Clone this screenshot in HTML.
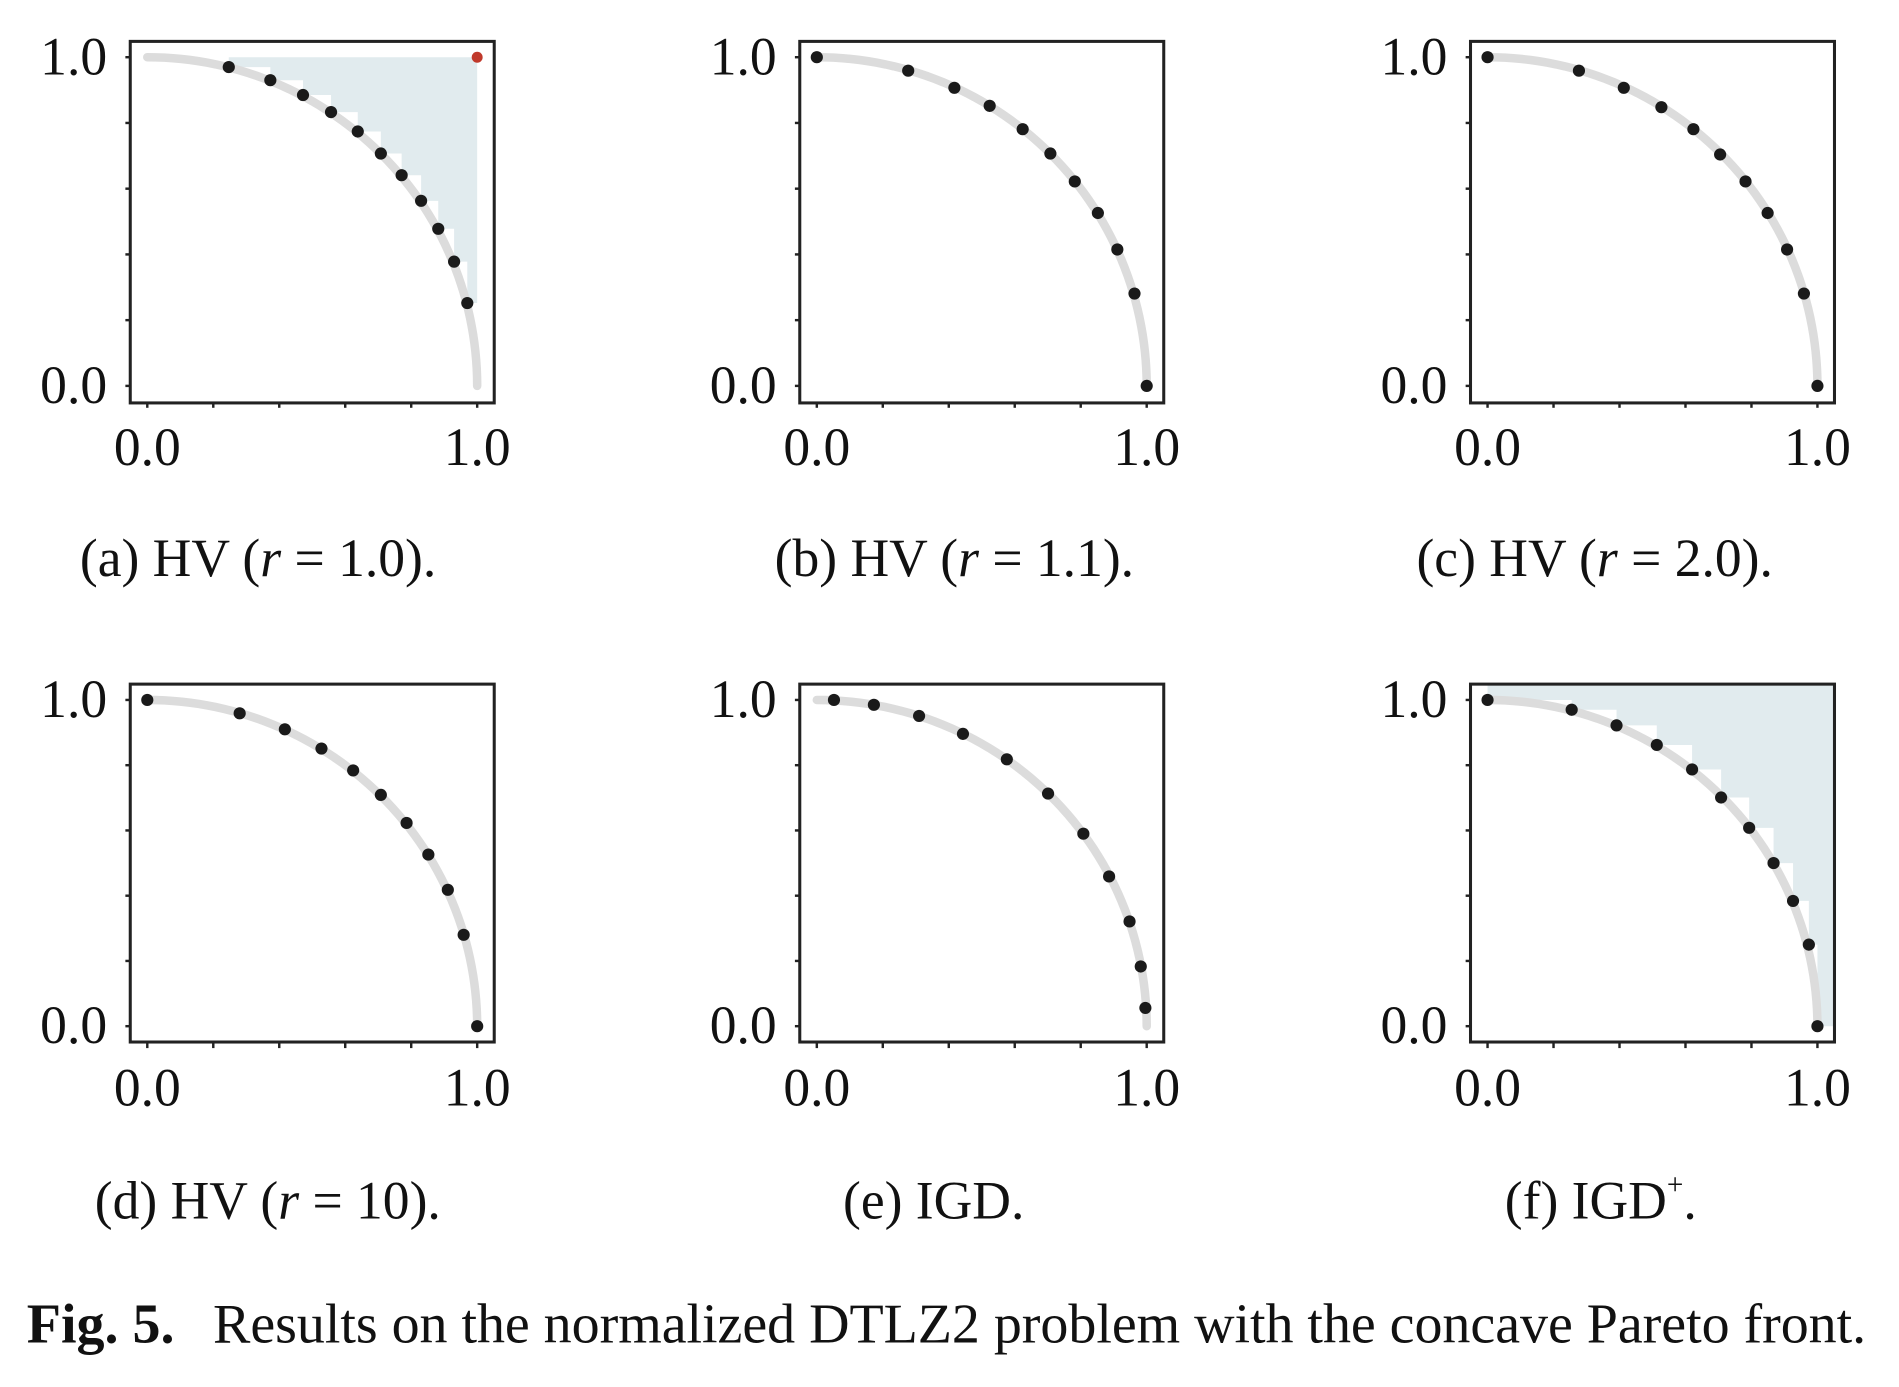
<!DOCTYPE html>
<html><head><meta charset="utf-8"><style>
html,body{margin:0;padding:0;background:#fff}
svg{display:block}
text{font-family:"Liberation Serif",serif;fill:#111}
</style></head><body>
<svg id="fig" width="1899" height="1387" viewBox="0 0 1560 1139.4" xmlns="http://www.w3.org/2000/svg">
<text x="22" y="1103" font-size="46"><tspan font-weight="bold">Fig. 5.</tspan></text>
<text x="175" y="1103" font-size="46" textLength="1358" lengthAdjust="spacing">Results on the normalized DTLZ2 problem with the concave Pareto front.</text>
</svg>
<script>
const NS='http://www.w3.org/2000/svg';
const svg=document.getElementById('fig');
// data arrays (normalized objective values)
const aX=[0.247,0.373,0.472,0.557,0.638,0.708,0.771,0.830,0.882,0.930,0.970];
const aY=[0.970,0.930,0.885,0.833,0.774,0.707,0.641,0.563,0.478,0.378,0.252];
const bX=[0,0.277,0.417,0.524,0.624,0.708,0.782,0.852,0.911,0.963,1.0];
const bY=[1,0.959,0.907,0.852,0.781,0.707,0.622,0.526,0.415,0.281,0];
const cX=[0,0.277,0.413,0.527,0.624,0.705,0.782,0.849,0.908,0.959,1.0];
const cY=[1,0.959,0.907,0.848,0.781,0.704,0.622,0.526,0.415,0.281,0];
const dX=[0,0.280,0.417,0.528,0.624,0.708,0.786,0.852,0.911,0.959,1.0];
const dY=[1,0.959,0.910,0.851,0.784,0.709,0.623,0.526,0.418,0.280,0];
const eX=[0.052,0.173,0.310,0.443,0.576,0.701,0.808,0.886,0.948,0.982,0.996];
const eY=[1,0.985,0.951,0.896,0.818,0.713,0.590,0.459,0.321,0.183,0.056];
const fX=[0,0.255,0.391,0.513,0.620,0.708,0.793,0.867,0.926,0.974,1.0];
const fY=[1,0.970,0.922,0.862,0.787,0.701,0.608,0.500,0.384,0.250,0];
const tickVals=[0,0.2,0.4,0.6,0.8,1.0];
const tickLabels=['0.0','1.0'];
const captions=['(a) HV (<tspan font-style="italic">r</tspan> = 1.0).','(b) HV (<tspan font-style="italic">r</tspan> = 1.1).','(c) HV (<tspan font-style="italic">r</tspan> = 2.0).','(d) HV (<tspan font-style="italic">r</tspan> = 10).','(e) IGD.','(f) IGD<tspan font-size="24" dy="-20">+</tspan><tspan dy="20">.</tspan>'];
const refs=[[1,1],null,null,null,null,[1.052,1.05]];
const panels=[
 {X:aX,Y:aY,ox:0,oy:0,cx:212},{X:bX,Y:bY,ox:550,oy:0,cx:784},{X:cX,Y:cY,ox:1101,oy:0,cx:1310},
 {X:dX,Y:dY,ox:0,oy:528,cx:220},{X:eX,Y:eY,ox:550,oy:528,cx:767},{X:fX,Y:fY,ox:1101,oy:528,cx:1315}];
function mk(tag,attrs,parent){const e=document.createElementNS(NS,tag);for(const k in attrs)e.setAttribute(k,attrs[k]);(parent||svg).appendChild(e);return e;}
panels.forEach((p,i)=>{
 const g=mk('g',{});
 
 
 const x0=121+p.ox,x1=392+p.ox,y0=317+p.oy-(i>=3?2:0),y1=47+p.oy;
 const sx=v=>x0+v*(x1-x0), sy=v=>y0-v*(y0-y1);
 const ref=refs[i];
 if(ref){
  let idx=p.X.map((_,k)=>k).sort((a,b)=>p.X[a]-p.X[b]);
  let d='M'+sx(p.X[idx[0]])+','+sy(ref[1]);
  d+=' L'+sx(ref[0])+','+sy(ref[1])+' L'+sx(ref[0])+','+sy(p.Y[idx[idx.length-1]]);
  for(let k=idx.length-1;k>=0;k--){const j=idx[k];d+=' L'+sx(p.X[j])+','+sy(p.Y[j]);if(k>0)d+=' L'+sx(p.X[j])+','+sy(p.Y[idx[k-1]]);}
  d+='Z';
  const r=mk('path',{d:d,fill:'#e1ebee'},g);
  
  
 }
 let ad='';for(let t=0;t<=60;t++){const a=t/60*Math.PI/2;ad+=(t?' L':'M')+sx(Math.sin(a))+','+sy(Math.cos(a));}
 const arc=mk('path',{d:ad,fill:'none',stroke:'#dcdcdc','stroke-width':7,'stroke-linecap':'round'},g);
 
 
 const bx=mk('rect',{x:x0-14,y:y1-13,width:(x1-x0)+28,height:(y0-y1)+27+(i>=3?-1:0),fill:'none',stroke:'#222','stroke-width':2.5},g);
 
 
 tickVals.forEach(v=>{
  const tx=mk('line',{x1:sx(v),x2:sx(v),y1:y0+14,y2:y0+18,stroke:'#222','stroke-width':2},g);
  
  
  const ty=mk('line',{x1:x0-18,x2:x0-14,y1:sy(v),y2:sy(v),stroke:'#222','stroke-width':2},g);
  
  
 });
 [0,1].forEach(v=>{
  const lx=mk('text',{x:sx(v),y:y0+65,'font-size':44,'text-anchor':'middle'},g);lx.textContent=tickLabels[v];
  
  
  const ly=mk('text',{x:x0-33,y:sy(v)+14,'font-size':44,'text-anchor':'end'},g);ly.textContent=tickLabels[v];
  
  
 });
 p.X.forEach((v,k)=>{
  const c=mk('circle',{cx:sx(v),cy:sy(p.Y[k]),r:5,fill:'#1a1a1a'},g);
  
  
 });
 if(i===0){
  const rp=mk('circle',{cx:sx(ref[0]),cy:sy(ref[1]),r:4.5,fill:'#c0392b'},g);
  
  
 }
 const cap=mk('text',{x:p.cx,y:473+p.oy,'font-size':44,'text-anchor':'middle'},g);
 cap.innerHTML=captions[i];
 
 
});
</script>
</body></html>
